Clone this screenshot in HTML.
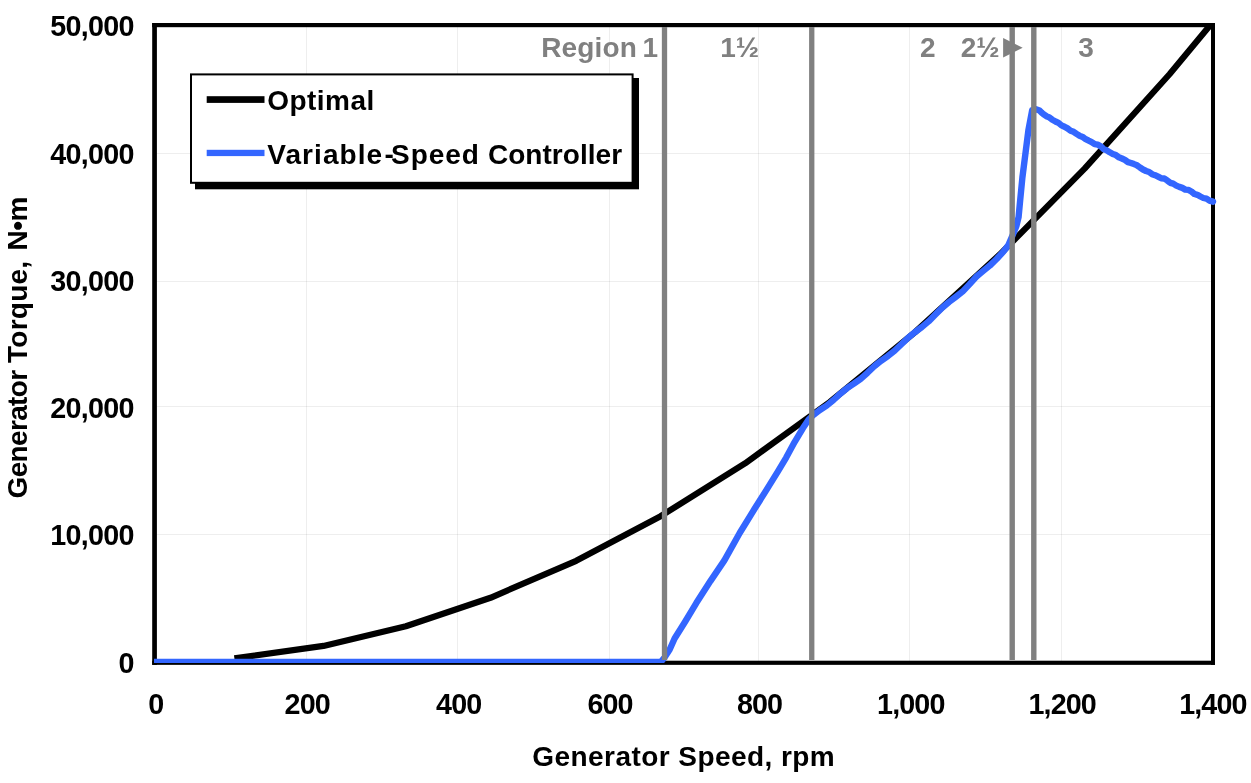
<!DOCTYPE html>
<html><head><meta charset="utf-8"><title>Generator Torque vs Speed</title>
<style>
html,body{margin:0;padding:0;background:#fff;}
svg{display:block;will-change:transform;font-family:"Liberation Sans",Arial,sans-serif;font-weight:bold;font-size:28px;}
text{fill:#000;}
.g{fill:#808080;}
</style></head><body>
<svg width="1251" height="783" viewBox="0 0 1251 783">
<rect x="0" y="0" width="1251" height="783" fill="#fff"/>
<defs><clipPath id="pc"><rect x="154" y="25" width="1059.5" height="638"/></clipPath><clipPath id="pb"><rect x="154" y="20" width="1064" height="643"/></clipPath></defs>
<!-- gridlines -->
<g fill="#000" fill-opacity="0.065">
<rect x="306" y="27" width="1" height="634"/><rect x="457" y="27" width="1" height="634"/><rect x="609" y="27" width="1" height="634"/>
<rect x="758" y="27" width="1" height="634"/><rect x="909" y="27" width="1" height="634"/><rect x="1061" y="27" width="1" height="634"/>
<rect x="156" y="534" width="1056" height="1"/><rect x="156" y="406" width="1056" height="1"/><rect x="156" y="281" width="1056" height="1"/><rect x="156" y="153" width="1056" height="1"/>
</g>
<!-- frame -->
<g fill="#000">
<rect x="152.2" y="23" width="4.7" height="641.85"/>
<rect x="152.2" y="23" width="1062.8" height="4.2"/>
<rect x="1211" y="23" width="4" height="641.85"/>
<rect x="152.2" y="660.7" width="1062.8" height="4.15"/>
</g>
<!-- series -->
<g fill="none" stroke-linejoin="round">
<polyline clip-path="url(#pc)" points="234.4,658.4 323.5,645.9 405.9,626.2 490.5,597.8 576.2,560.8 660.6,516.2 745.0,463.4 829.9,402.0 914.8,332.4 999.7,254.6 1084.6,168.6 1169.5,74.3 1254.0,-27.8" stroke="#000" stroke-width="6.2"/>
<polyline clip-path="url(#pb)" points="154.0,662.0 660.8,662.0 664.5,657.5 669.7,649.5 674.6,638.5 685.1,621.8 696.3,603.1 710.4,581.1 724.4,560.4 739.7,533.0 754.6,508.8 766.5,489.9 777.8,471.6 786.2,457.6 794.6,442.1 803.0,428.1 808.7,419.5 813.1,415.2 819.9,410.0 826.7,405.6 833.5,400.0 840.3,393.7 847.1,388.2 853.9,383.7 860.7,378.8 867.5,372.8 874.3,366.3 881.1,360.8 887.9,356.1 894.6,350.8 901.4,344.3 908.2,337.7 915.0,332.1 921.8,327.1 928.6,321.4 935.4,314.5 942.2,307.7 949.0,302.0 955.8,296.9 962.6,291.6 969.4,284.4 976.2,276.8 983.0,271.1 989.8,265.6 996.6,259.0 1003.4,251.6 1008.3,245.2 1012.5,235.5 1016.4,226.0 1018.6,217.0 1020.2,200.0 1022.4,177.5 1028.5,129.5 1032.2,110.2 1036.0,109.3 1039.5,110.5 1041.5,112.5 1043.4,114.1 1046.4,116.2 1049.4,117.4 1052.4,119.8 1055.5,121.5 1058.5,122.9 1061.5,125.4 1064.5,126.7 1067.5,128.4 1070.6,130.7 1073.6,131.8 1076.6,133.9 1079.6,135.8 1082.6,136.9 1085.7,139.2 1088.7,140.7 1091.7,142.1 1094.7,144.2 1097.7,144.7 1100.8,146.3 1103.8,149.3 1106.8,150.3 1109.8,152.3 1112.8,154.0 1115.9,155.1 1118.9,157.3 1121.9,158.5 1124.9,159.9 1127.9,162.1 1131.0,163.0 1134.0,164.1 1137.0,165.3 1140.0,167.5 1143.0,169.5 1146.1,171.0 1149.1,172.0 1152.1,174.2 1155.1,175.2 1158.1,176.6 1161.2,178.3 1164.2,178.5 1167.2,180.4 1170.2,182.8 1173.2,183.6 1176.3,185.6 1179.3,186.9 1182.3,187.9 1185.3,189.6 1188.3,189.9 1191.4,191.5 1194.4,194.0 1197.4,194.8 1200.4,196.5 1203.4,198.0 1206.5,198.7 1209.5,200.7 1213.0,201.7" stroke="#3366ff" stroke-width="6.4" stroke-linecap="round"/>
</g>
<!-- region dividers -->
<g fill="#808080">
<rect x="661.85" y="27" width="5.3" height="633"/>
<rect x="809.1" y="27" width="5.3" height="633"/>
<rect x="1009.5" y="27" width="5.4" height="633"/>
<rect x="1031.1" y="27" width="5.4" height="633"/>
</g>
<text class="g" y="56.8"><tspan x="541.2" letter-spacing="0.15">Region </tspan><tspan x="642.4">1</tspan></text>
<text class="g" x="720.2" y="56.9" letter-spacing="-0.1">1½</text>
<text class="g" x="920" y="56.9">2</text>
<text class="g" x="960.8" y="56.9">2½</text>
<text class="g" x="996.8" y="56.7" style="font-size:32.6px">►</text>
<text class="g" x="1078.3" y="56.9">3</text>
<!-- legend -->
<rect x="195" y="78" width="444" height="111.3" fill="#000"/>
<rect x="191" y="74.4" width="441.6" height="108.4" fill="#fff" stroke="#000" stroke-width="2"/>
<rect x="206.7" y="96.2" width="57.8" height="6.7" fill="#000"/>
<rect x="206.7" y="149.8" width="57.8" height="6.3" fill="#3366ff"/>
<text x="267.3" y="109.8" letter-spacing="0.45">Optimal</text>
<text y="163.5"><tspan x="267.3" letter-spacing="1.05">Variable</tspan><tspan x="384.5" letter-spacing="0">-</tspan><tspan x="391" letter-spacing="0.95">Speed </tspan><tspan x="487.9" letter-spacing="0.05">Controller</tspan></text>
<!-- y tick labels -->
<g text-anchor="end" letter-spacing="-0.75" style="font-size:28.7px">
<text x="133.6" y="36.1">50,000</text>
<text x="133.6" y="163.6">40,000</text>
<text x="133.6" y="291">30,000</text>
<text x="133.6" y="418">20,000</text>
<text x="133.6" y="545.3">10,000</text>
<text x="133.6" y="673">0</text>
</g>
<!-- x tick labels -->
<g text-anchor="middle" letter-spacing="-0.88" style="font-size:28.7px">
<text x="155.7" y="714">0</text>
<text x="307.2" y="714">200</text>
<text x="458.7" y="714">400</text>
<text x="610.1" y="714">600</text>
<text x="759.6" y="714">800</text>
<text x="910.8" y="714">1,000</text>
<text x="1062.2" y="714">1,200</text>
<text x="1212.9" y="714">1,400</text>
</g>
<!-- axis titles -->
<text x="532.3" y="766.4" letter-spacing="0.44">Generator Speed, rpm</text>
<text transform="translate(26.9,500) rotate(-90)"><tspan x="1.5" letter-spacing="-0.65">Generator </tspan><tspan x="137.1" letter-spacing="0.23">Torque, </tspan><tspan x="249.6" letter-spacing="-0.6">N•m</tspan></text>
</svg>
</body></html>
